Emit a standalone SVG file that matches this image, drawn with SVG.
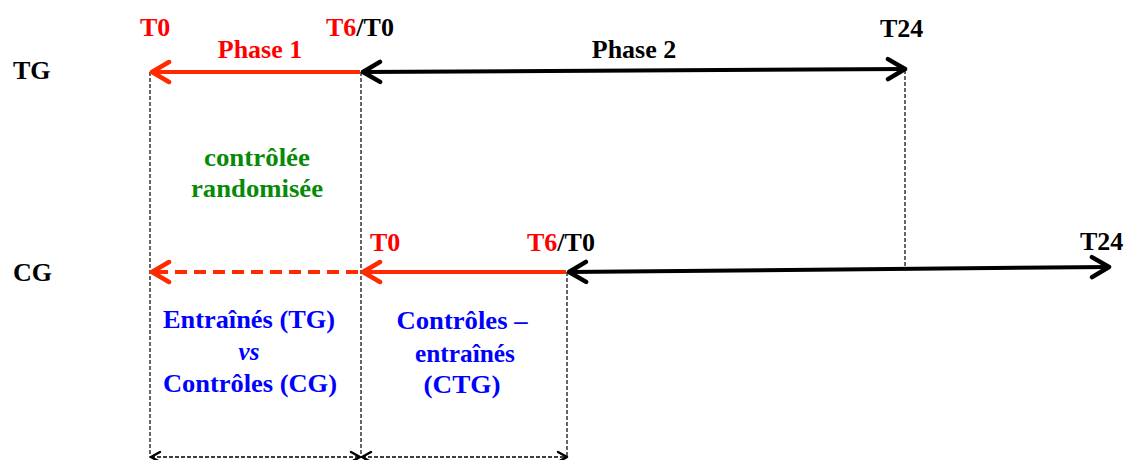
<svg xmlns="http://www.w3.org/2000/svg" width="1126" height="460" viewBox="0 0 1126 460">
<style>
text{font-family:"Liberation Serif","Times New Roman",serif;font-weight:bold}
.lbl{font-size:26px;fill:#000}
.t{font-size:26px}
.red{fill:#ff0000}
.blk{fill:#000}
.ph{font-size:26px}
.grn{font-size:26px;fill:#078a07;text-anchor:middle}
.blu{font-size:25px;fill:#0000ff;text-anchor:middle}
.guide{stroke:#000;stroke-width:1.2;stroke-dasharray:4 2;fill:none}
.rline{stroke:#ff2a00;stroke-width:4;fill:none}
.bline{stroke:#000;stroke-width:4;fill:none}
.span{stroke:#000;stroke-width:1.6;stroke-dasharray:4 2;fill:none}
</style>
<defs>
<marker id="ar" viewBox="-3 -3 24 28" refX="18" refY="11" markerWidth="24" markerHeight="28" markerUnits="userSpaceOnUse" orient="auto-start-reverse">
<path d="M1,1 L18,11 L1,21" fill="none" stroke="#ff2a00" stroke-width="4.5" stroke-linecap="round" stroke-linejoin="round"/>
</marker>
<marker id="ab" viewBox="-3 -3 24 28" refX="18" refY="11" markerWidth="24" markerHeight="28" markerUnits="userSpaceOnUse" orient="auto-start-reverse">
<path d="M1,1 L18,11 L1,21" fill="none" stroke="#000" stroke-width="4.5" stroke-linecap="round" stroke-linejoin="round"/>
</marker>
<marker id="as" viewBox="-2 -2 14 16" refX="10" refY="6" markerWidth="14" markerHeight="16" markerUnits="userSpaceOnUse" orient="auto-start-reverse">
<path d="M1,1 L10,6 L1,11" fill="none" stroke="#000" stroke-width="2.5" stroke-linecap="round" stroke-linejoin="round"/>
</marker>
</defs>

<g id="guides">
<line class="guide" x1="150" y1="72" x2="150" y2="458"/>
<line class="guide" x1="361" y1="72" x2="361" y2="458"/>
<line class="guide" x1="905" y1="70" x2="905" y2="270"/>
<line class="guide" x1="567" y1="272" x2="567" y2="458"/>
</g>

<g id="connectors">
<line class="rline" x1="360" y1="72" x2="152" y2="72" marker-end="url(#ar)"/>
<line class="bline" x1="363" y1="72" x2="905" y2="69" marker-start="url(#ab)" marker-end="url(#ab)"/>
<line class="rline" x1="358" y1="272" x2="152" y2="272" stroke-dasharray="12 7" marker-end="url(#ar)"/>
<line class="rline" x1="566" y1="272" x2="363" y2="272" marker-end="url(#ar)"/>
<line class="bline" x1="569" y1="272" x2="1109" y2="267" marker-start="url(#ab)" marker-end="url(#ab)"/>
<line class="span" x1="151" y1="457" x2="360" y2="457" marker-start="url(#as)" marker-end="url(#as)"/>
<line class="span" x1="362" y1="457" x2="567" y2="457" marker-start="url(#as)" marker-end="url(#as)"/>
</g>

<g id="row-TG">
<text class="lbl" x="13" y="79">TG</text>
<text class="t red" x="140" y="36">T0</text>
<text class="t" x="326" y="36"><tspan class="red">T6</tspan><tspan class="blk">/T0</tspan></text>
<text class="t blk" x="880" y="37">T24</text>
<text class="ph red" x="260" y="58" text-anchor="middle">Phase 1</text>
<text class="ph blk" x="634" y="58" text-anchor="middle">Phase 2</text>
</g>

<g id="randomised">
<text class="grn" x="257" y="166" textLength="106" lengthAdjust="spacingAndGlyphs">contrôlée</text>
<text class="grn" x="257" y="197" textLength="132" lengthAdjust="spacingAndGlyphs">randomisée</text>
</g>

<g id="row-CG">
<text class="lbl" x="13" y="281">CG</text>
<text class="t red" x="370" y="251">T0</text>
<text class="t" x="527" y="251"><tspan class="red">T6</tspan><tspan class="blk">/T0</tspan></text>
<text class="t blk" x="1080" y="250">T24</text>
</g>

<g id="tg-vs-cg">
<text class="blu" x="249" y="328" textLength="172" lengthAdjust="spacingAndGlyphs">Entraînés (TG)</text>
<text class="blu" x="249" y="360" font-style="italic">vs</text>
<text class="blu" x="250" y="392" textLength="174" lengthAdjust="spacingAndGlyphs">Contrôles (CG)</text>
</g>

<g id="ctg">
<text class="blu" x="462" y="329" textLength="131" lengthAdjust="spacingAndGlyphs">Contrôles –</text>
<text class="blu" x="465" y="362" textLength="100" lengthAdjust="spacingAndGlyphs">entraînés</text>
<text class="blu" x="462" y="393" textLength="77" lengthAdjust="spacingAndGlyphs">(CTG)</text>
</g>
</svg>
